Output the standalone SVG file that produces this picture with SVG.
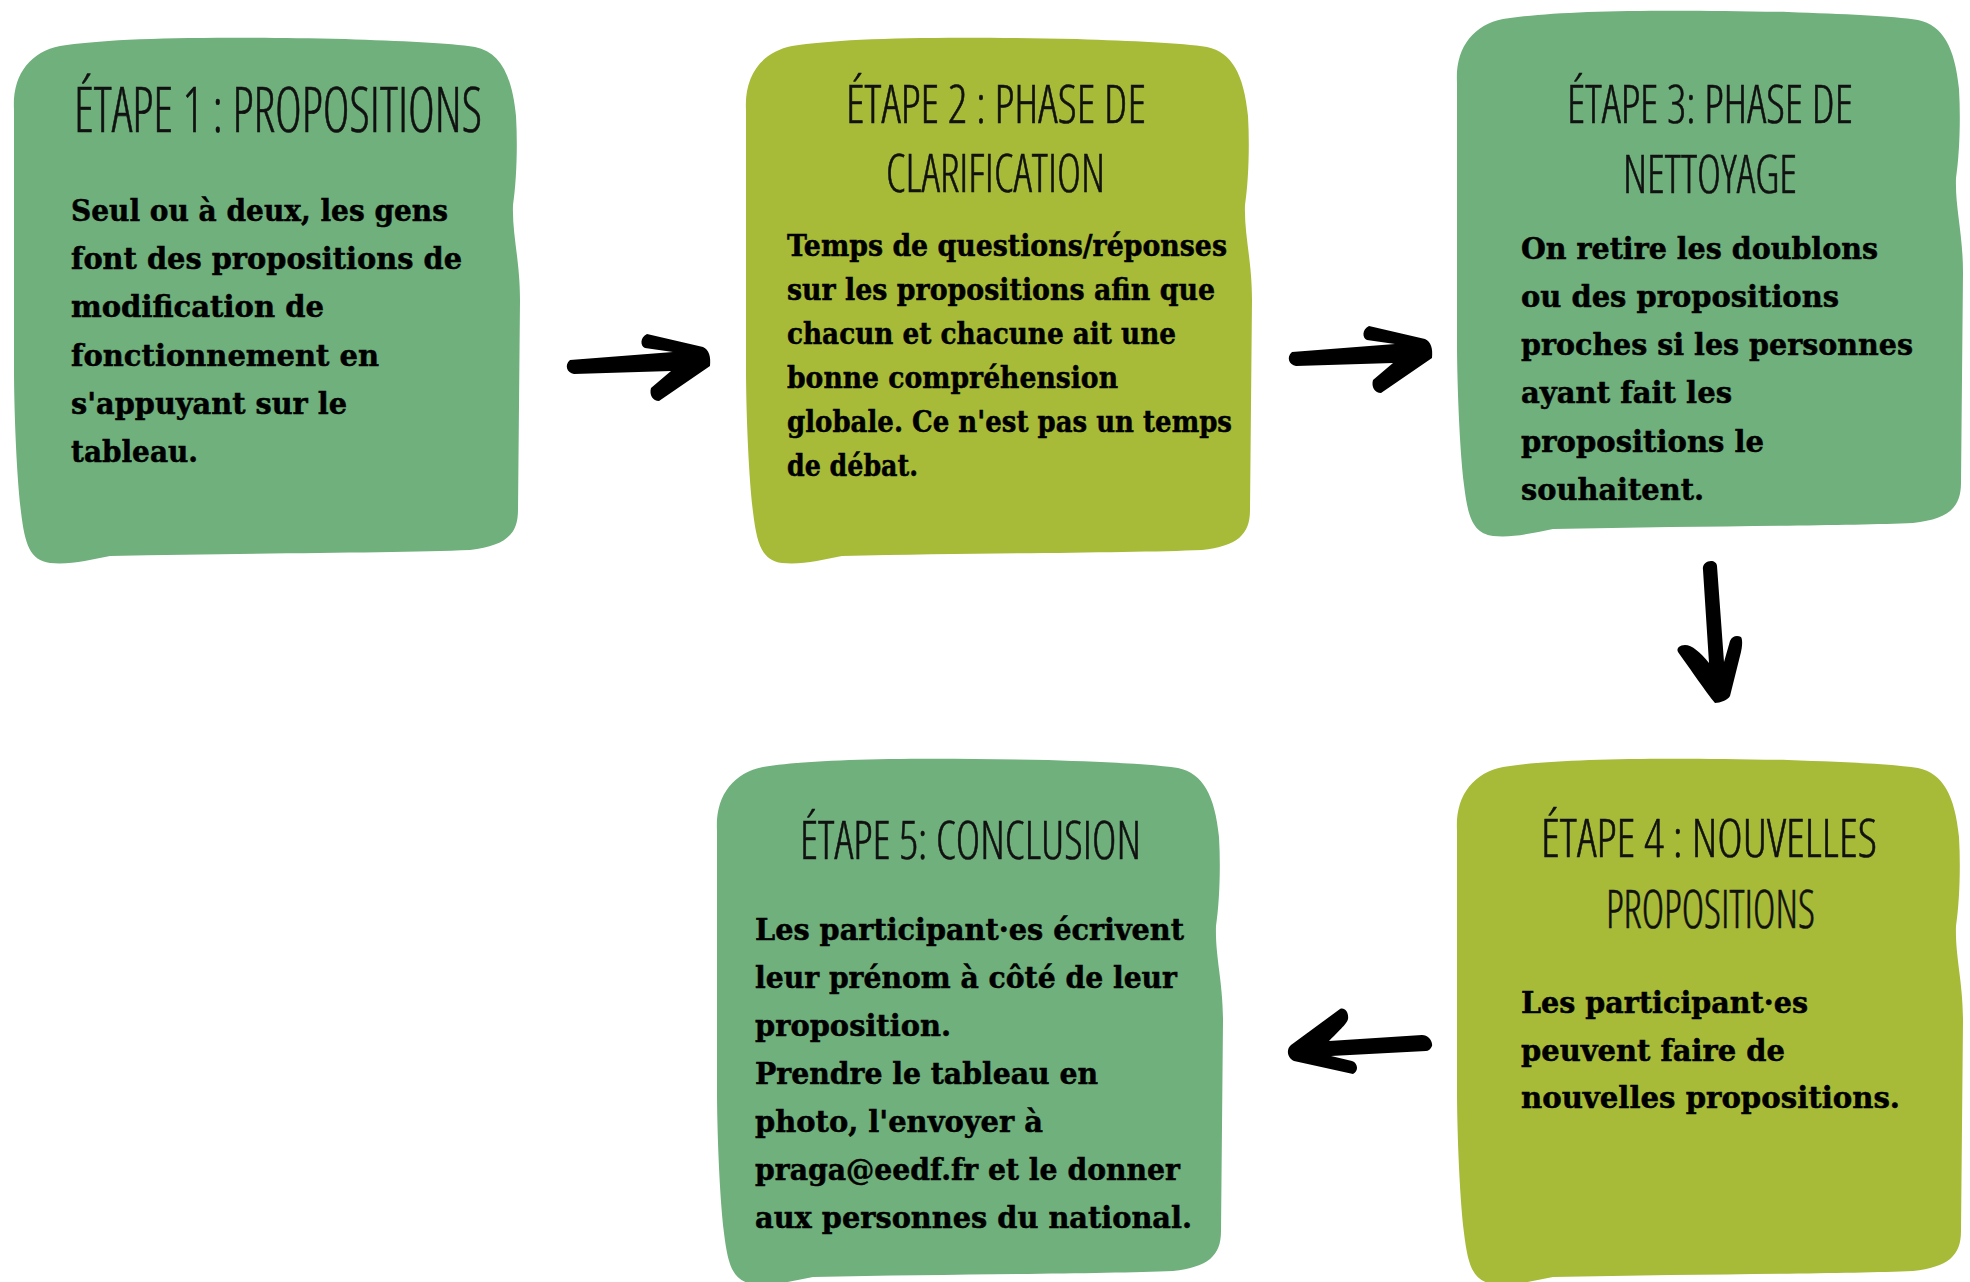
<svg xmlns="http://www.w3.org/2000/svg" width="1970" height="1282" viewBox="0 0 1970 1282">
<style>
.green{fill:#6fb07c}
.lime{fill:#a7bb39}
.title{font-family:"Open Sans","Liberation Sans Narrow","Liberation Sans",sans-serif;font-weight:300;font-stretch:75%;fill:#111;stroke:#111;stroke-width:0.6}
.t1{font-size:63px}
.t2{font-size:53px}
.body{font-family:"DejaVu Serif","Liberation Serif",serif;font-weight:bold;font-size:29px;fill:#000;stroke:#000;stroke-width:0.5}
.arrow{fill:#000}
</style>
<defs>
<path id="blob" d="M14,110 C12,75 30,52 60,46 C110,38 200,36 345,39 C400,41 450,43 475,47 C500,52 512,75 516,116 C518,150 516,185 513,205 C512,235 520,260 520,300 L518,510 C518,535 505,546 470,550 C400,553 250,553 110,556 C90,560 70,565 50,563 C30,560 25,545 21,512 C16,470 14,400 14,370 Z"/>
<path id="arrowR" d="M570,360 L673,352 L645,348 C640,346 640,337 647,334 L703,347 C709,350 711,356 710,366 L659,401 C653,401 649,395 651,388 L671,371 L574,374 C567,373 564,365 570,360 Z"/>
</defs>
<rect width="1970" height="1282" fill="#fff"/>

<g id="connectors">
<use href="#arrowR" class="arrow"/>
<use href="#arrowR" class="arrow" transform="translate(722,-8)"/>
<path class="arrow" d="M1703,570 C1702,564 1707,561 1711,561 C1714,561 1717,563 1717,566 L1724,662 L1730,641 C1732,636 1737,635 1741,637 C1743,640 1742,648 1741,652 L1730,696 C1728,700 1720,703 1715,703 C1706,692 1691,670 1678,652 C1676,648 1680,645 1685,645 C1692,645 1700,652 1709,663 Z"/>
<path class="arrow" d="M1422,1035 C1428,1035 1433,1041 1432,1046 C1431,1049 1428,1051 1426,1051 L1331,1056 L1352,1061 C1358,1063 1359,1071 1353,1074 L1294,1061 C1287,1058 1286,1049 1291,1045 L1340,1009 C1345,1007 1349,1013 1348,1019 C1347,1023 1344,1026 1329,1041 Z"/>
</g>

<g id="etape1">
<use href="#blob" class="green"/>
<text class="title t1" x="74" y="132" textLength="408" lengthAdjust="spacingAndGlyphs">ÉTAPE 1 : PROPOSITIONS</text>
<text class="body" x="71" y="221" textLength="377" lengthAdjust="spacingAndGlyphs">Seul ou à deux, les gens</text>
<text class="body" x="71" y="269" textLength="391" lengthAdjust="spacingAndGlyphs">font des propositions de</text>
<text class="body" x="71" y="317" textLength="253" lengthAdjust="spacingAndGlyphs">modification de</text>
<text class="body" x="71" y="366" textLength="308" lengthAdjust="spacingAndGlyphs">fonctionnement en</text>
<text class="body" x="71" y="414" textLength="276" lengthAdjust="spacingAndGlyphs">s'appuyant sur le</text>
<text class="body" x="71" y="462" textLength="127" lengthAdjust="spacingAndGlyphs">tableau.</text>
</g>

<g id="etape2">
<use href="#blob" class="lime" transform="translate(732,0)"/>
<text class="title t2" x="846" y="123" textLength="300" lengthAdjust="spacingAndGlyphs">ÉTAPE 2 : PHASE DE</text>
<text class="title t2" x="886" y="192" textLength="219" lengthAdjust="spacingAndGlyphs">CLARIFICATION</text>
<text class="body" x="787" y="256" textLength="440" lengthAdjust="spacingAndGlyphs">Temps de questions/réponses</text>
<text class="body" x="787" y="300" textLength="428" lengthAdjust="spacingAndGlyphs">sur les propositions afin que</text>
<text class="body" x="787" y="344" textLength="389" lengthAdjust="spacingAndGlyphs">chacun et chacune ait une</text>
<text class="body" x="787" y="388" textLength="331" lengthAdjust="spacingAndGlyphs">bonne compréhension</text>
<text class="body" x="787" y="432" textLength="445" lengthAdjust="spacingAndGlyphs">globale. Ce n'est pas un temps</text>
<text class="body" x="787" y="476" textLength="131" lengthAdjust="spacingAndGlyphs">de débat.</text>
</g>

<g id="etape3">
<use href="#blob" class="green" transform="translate(1443,-27)"/>
<text class="title t2" x="1567" y="123" textLength="286" lengthAdjust="spacingAndGlyphs">ÉTAPE 3: PHASE DE</text>
<text class="title t2" x="1623" y="193" textLength="174" lengthAdjust="spacingAndGlyphs">NETTOYAGE</text>
<text class="body" x="1521" y="259" textLength="357" lengthAdjust="spacingAndGlyphs">On retire les doublons</text>
<text class="body" x="1521" y="307" textLength="318" lengthAdjust="spacingAndGlyphs">ou des propositions</text>
<text class="body" x="1521" y="355" textLength="392" lengthAdjust="spacingAndGlyphs">proches si les personnes</text>
<text class="body" x="1521" y="403" textLength="211" lengthAdjust="spacingAndGlyphs">ayant fait les</text>
<text class="body" x="1521" y="452" textLength="243" lengthAdjust="spacingAndGlyphs">propositions le</text>
<text class="body" x="1521" y="500" textLength="183" lengthAdjust="spacingAndGlyphs">souhaitent.</text>
</g>

<g id="etape4">
<use href="#blob" class="lime" transform="translate(1443,721)"/>
<text class="title t2" x="1541" y="857" textLength="336" lengthAdjust="spacingAndGlyphs">ÉTAPE 4 : NOUVELLES</text>
<text class="title t2" x="1606" y="928" textLength="209" lengthAdjust="spacingAndGlyphs">PROPOSITIONS</text>
<text class="body" x="1521" y="1013" textLength="287" lengthAdjust="spacingAndGlyphs">Les participant·es</text>
<text class="body" x="1521" y="1061" textLength="264" lengthAdjust="spacingAndGlyphs">peuvent faire de</text>
<text class="body" x="1521" y="1108" textLength="379" lengthAdjust="spacingAndGlyphs">nouvelles propositions.</text>
</g>

<g id="etape5">
<use href="#blob" class="green" transform="translate(703,721)"/>
<text class="title t2" x="800" y="859" textLength="341" lengthAdjust="spacingAndGlyphs">ÉTAPE 5: CONCLUSION</text>
<text class="body" x="755" y="940" textLength="429" lengthAdjust="spacingAndGlyphs">Les participant·es écrivent</text>
<text class="body" x="755" y="988" textLength="422" lengthAdjust="spacingAndGlyphs">leur prénom à côté de leur</text>
<text class="body" x="755" y="1036" textLength="196" lengthAdjust="spacingAndGlyphs">proposition.</text>
<text class="body" x="755" y="1084" textLength="343" lengthAdjust="spacingAndGlyphs">Prendre le tableau en</text>
<text class="body" x="755" y="1132" textLength="288" lengthAdjust="spacingAndGlyphs">photo, l'envoyer à</text>
<text class="body" x="755" y="1180" textLength="425" lengthAdjust="spacingAndGlyphs">praga@eedf.fr et le donner</text>
<text class="body" x="755" y="1228" textLength="437" lengthAdjust="spacingAndGlyphs">aux personnes du national.</text>
</g>
</svg>
